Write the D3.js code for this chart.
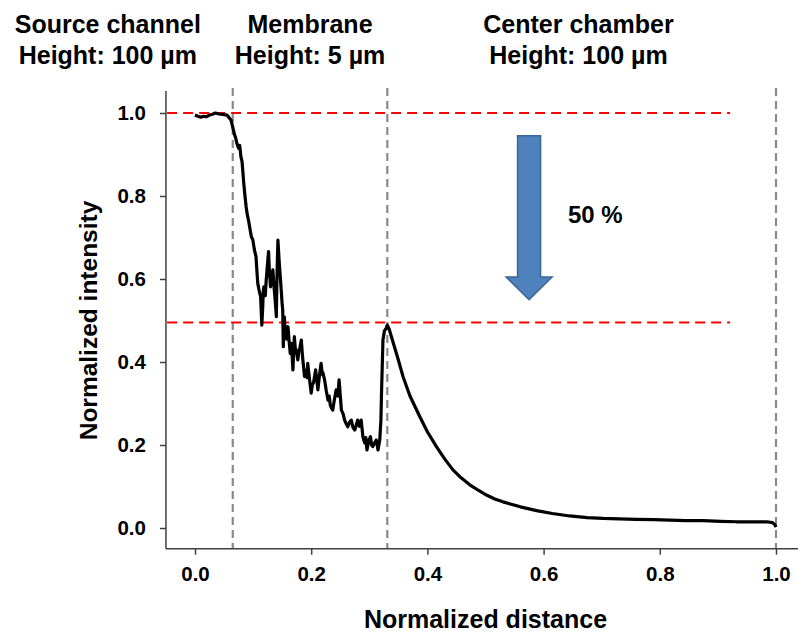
<!DOCTYPE html>
<html>
<head>
<meta charset="utf-8">
<script src="https://cdn.jsdelivr.net/npm/d3@7"></script>
<style>
  html, body { margin: 0; padding: 0; background: #fff; }
  svg { display: block; font-family: "Liberation Sans", Arial, sans-serif; font-weight: bold; }
</style>
</head>
<body>
<svg id="chart" width="798" height="633"></svg>
<script>
// Intensity profile along the device, normalized in both axes
const distance = [
  0.000, 0.005, 0.010, 0.015, 0.020, 0.025, 0.030, 0.035, 0.040, 0.045,
  0.050, 0.055, 0.058, 0.062, 0.066, 0.068, 0.070, 0.072, 0.075, 0.077,
  0.079, 0.081, 0.084, 0.086, 0.088, 0.090, 0.092, 0.094, 0.097, 0.0996,
  0.102, 0.105, 0.107, 0.108, 0.110, 0.113, 0.115, 0.1165, 0.1175, 0.1185,
  0.121, 0.1226, 0.125, 0.1266, 0.128, 0.130, 0.132, 0.134, 0.1355, 0.137,
  0.139, 0.140, 0.141, 0.1427, 0.145, 0.148, 0.150, 0.151, 0.152, 0.1538,
  0.155, 0.157, 0.158, 0.160, 0.162, 0.164, 0.166, 0.1685, 0.171, 0.173,
  0.174, 0.177, 0.179, 0.180, 0.183, 0.185, 0.186, 0.1886, 0.191, 0.193,
  0.194, 0.197, 0.200, 0.202, 0.204, 0.2076, 0.210, 0.2115, 0.214, 0.217,
  0.219, 0.220, 0.223, 0.226, 0.229, 0.231, 0.233, 0.237, 0.240, 0.243,
  0.246, 0.248, 0.250, 0.252, 0.255, 0.2575, 0.260, 0.263, 0.266, 0.269,
  0.272, 0.275, 0.278, 0.280, 0.283, 0.286, 0.289, 0.292, 0.294, 0.296,
  0.299, 0.302, 0.304, 0.306, 0.309, 0.312, 0.315, 0.318, 0.320, 0.321,
  0.3235, 0.326, 0.329, 0.331, 0.334, 0.340, 0.350, 0.358, 0.370, 0.387,
  0.400, 0.4155, 0.430, 0.444, 0.458, 0.473, 0.4875, 0.5016, 0.516, 0.530,
  0.560, 0.588, 0.615, 0.645, 0.675, 0.7025, 0.730, 0.760, 0.790, 0.817,
  0.845, 0.875, 0.905, 0.932, 0.960, 0.984, 0.994, 0.998, 1.000
];
const intensity = [
  0.995, 0.992, 0.990, 0.992, 0.991, 0.995, 0.997, 1.000, 0.998, 0.997,
  0.996, 0.995, 0.990, 0.983, 0.960, 0.948, 0.940, 0.927, 0.915, 0.922,
  0.895, 0.883, 0.830, 0.800, 0.774, 0.755, 0.742, 0.726, 0.702, 0.694,
  0.672, 0.654, 0.610, 0.590, 0.575, 0.557, 0.489, 0.530, 0.570, 0.581,
  0.560, 0.598, 0.640, 0.666, 0.620, 0.581, 0.600, 0.622, 0.590, 0.566,
  0.530, 0.509, 0.600, 0.694, 0.640, 0.581, 0.540, 0.525, 0.437, 0.509,
  0.470, 0.485, 0.455, 0.485, 0.450, 0.420, 0.445, 0.381, 0.461, 0.425,
  0.430, 0.405, 0.428, 0.430, 0.453, 0.415, 0.400, 0.365, 0.380, 0.362,
  0.397, 0.360, 0.325, 0.345, 0.350, 0.381, 0.352, 0.333, 0.365, 0.397,
  0.370, 0.375, 0.357, 0.330, 0.308, 0.318, 0.295, 0.284, 0.310, 0.333,
  0.318, 0.357, 0.320, 0.284, 0.275, 0.260, 0.252, 0.244, 0.255, 0.260,
  0.242, 0.236, 0.250, 0.260, 0.245, 0.260, 0.220, 0.205, 0.218, 0.188,
  0.210, 0.220, 0.200, 0.196, 0.205, 0.212, 0.188, 0.212, 0.260, 0.325,
  0.453, 0.475, 0.481, 0.489, 0.480, 0.452, 0.405, 0.365, 0.318, 0.268,
  0.232, 0.196, 0.166, 0.140, 0.121, 0.104, 0.091, 0.0795, 0.070, 0.063,
  0.051, 0.042, 0.035, 0.029, 0.025, 0.023, 0.022, 0.021, 0.020, 0.019,
  0.018, 0.0176, 0.016, 0.015, 0.015, 0.015, 0.013, 0.008, 0.002
];

// Axis ticks
const xTicks = [0, 0.2, 0.4, 0.6, 0.8, 1.0];
const yTicks = [0, 0.2, 0.4, 0.6, 0.8, 1.0];

// Region boundaries and reference intensity levels
const boundaries = [0.065, 0.331, 1.0];
const levels = [1.0, 0.495];
const levelEnd = 0.921;

// Region headers (two lines each) centered over each section
const regionX = [-0.15, 0.198, 0.660];
const regionName = ["Source channel", "Membrane", "Center chamber"];
const regionHeight = ["Height: 100 µm", "Height: 5 µm", "Height: 100 µm"];

// Drop annotation
const dropLabel = "50 %";
const arrowX = 0.575, arrowTop = 0.945, arrowHeadBase = 0.605, arrowTip = 0.55;
const dropLabelX = 0.642, dropLabelY = 0.75;

const svg = d3.select("#chart");
const x = d3.scaleLinear().domain([0, 1]).range([195, 776]);
const y = d3.scaleLinear().domain([0, 1]).range([528, 113]);

const axisColor = "#404040";

// Vertical region boundaries
svg.append("g").selectAll("line").data(boundaries).join("line")
  .attr("x1", d => x(d)).attr("x2", d => x(d))
  .attr("y1", y(1.06)).attr("y2", y(-0.05))
  .attr("stroke", "#8a8a8a").attr("stroke-width", 2.2)
  .attr("stroke-dasharray", "8,5");

// Horizontal reference levels
svg.append("g").selectAll("line").data(levels).join("line")
  .attr("x1", x(-0.048)).attr("x2", x(levelEnd))
  .attr("y1", d => y(d)).attr("y2", d => y(d))
  .attr("stroke", "#ff0000").attr("stroke-width", 2)
  .attr("stroke-dasharray", "10,6");

// Axes
const xAxis = svg.append("g").attr("transform", `translate(0,${y(-0.05)})`)
  .call(d3.axisBottom(x).tickValues(xTicks).tickFormat(d3.format(".1f")).tickSize(6).tickPadding(12));
xAxis.select(".domain").attr("d", `M${x(-0.05)},0H798`);
const yAxis = svg.append("g").attr("transform", `translate(${x(-0.05)},0)`)
  .call(d3.axisLeft(y).tickValues(yTicks).tickFormat(d3.format(".1f")).tickSize(6).tickPadding(14));
yAxis.select(".domain").attr("d", `M0,${y(1.053)}V${y(-0.05)}`);
svg.selectAll(".domain").attr("stroke", axisColor).attr("stroke-width", 1.5);
svg.selectAll(".tick line").attr("stroke", axisColor).attr("stroke-width", 1.5);
svg.selectAll(".tick text").attr("fill", "#000")
  .style("font-family", '"Liberation Sans", Arial, sans-serif')
  .style("font-weight", "bold").style("font-size", "20.5px");

// Profile line
const line = d3.line().x((d, i) => x(distance[i])).y((d, i) => y(intensity[i]));
svg.append("path").datum(intensity)
  .attr("d", line)
  .attr("fill", "none").attr("stroke", "#000")
  .attr("stroke-width", 3.2).attr("stroke-linejoin", "round");

// Drop arrow
const ax = x(arrowX), shaftHalf = 11.5, headHalf = 23;
const arrowPts = [
  [ax - shaftHalf, y(arrowTop)], [ax + shaftHalf, y(arrowTop)],
  [ax + shaftHalf, y(arrowHeadBase)], [ax + headHalf, y(arrowHeadBase)],
  [ax, y(arrowTip)], [ax - headHalf, y(arrowHeadBase)],
  [ax - shaftHalf, y(arrowHeadBase)]
];
svg.append("polygon").attr("points", arrowPts.map(p => p.join(",")).join(" "))
  .attr("fill", "#4f81bd").attr("stroke", "#3a6696").attr("stroke-width", 1.5);
svg.append("text").attr("x", x(dropLabelX)).attr("y", y(dropLabelY))
  .attr("font-size", 24).attr("dominant-baseline", "middle").text(dropLabel);

// Region headers
const hdr = svg.append("g").attr("text-anchor", "middle").attr("font-size", 25);
regionName.forEach((t, i) => {
  hdr.append("text").attr("x", x(regionX[i])).attr("y", 33).text(t);
  hdr.append("text").attr("x", x(regionX[i])).attr("y", 64).text(regionHeight[i]);
});

// Axis titles
svg.append("text").attr("x", x(0.5)).attr("y", 628)
  .attr("text-anchor", "middle").attr("font-size", 25).text("Normalized distance");
svg.append("text").attr("transform", `translate(97,${y(0.5)}) rotate(-90)`)
  .attr("text-anchor", "middle").attr("font-size", 24.5).text("Normalized intensity");
</script>
</body>
</html>
